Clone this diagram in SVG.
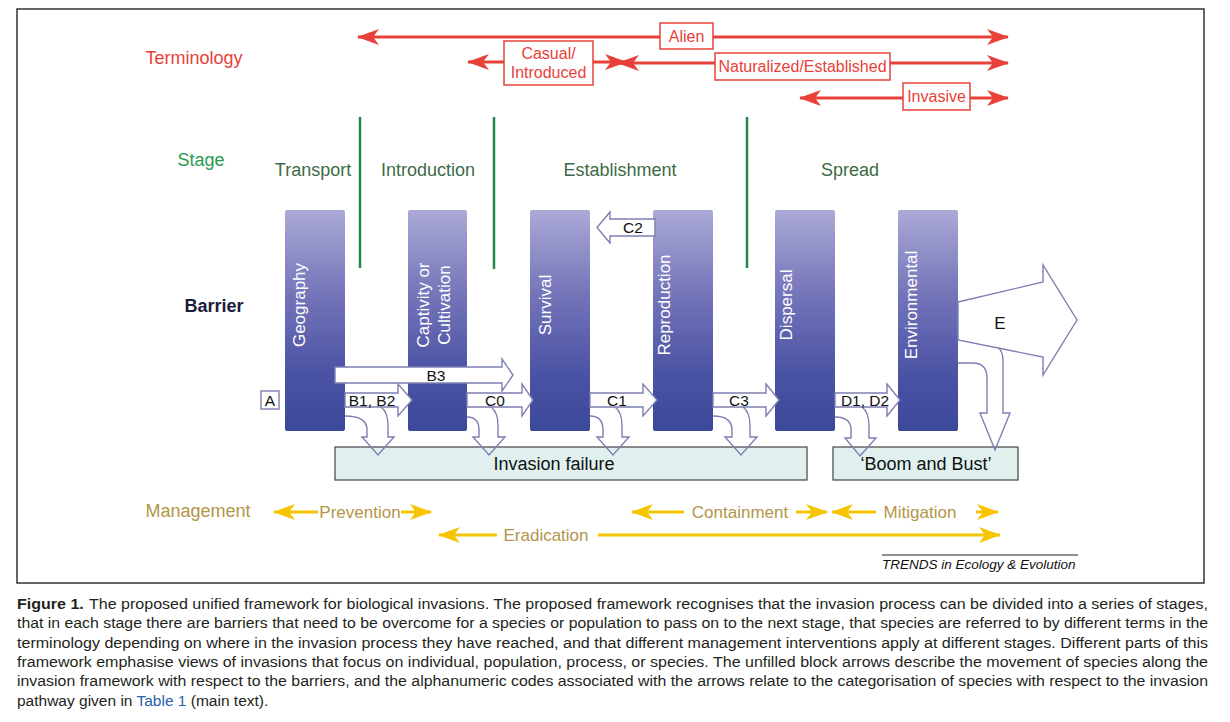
<svg xmlns="http://www.w3.org/2000/svg" width="1230" height="722" viewBox="0 0 1230 722">
<style>
text{font-family:"Liberation Sans",Arial,sans-serif}
.term{fill:#e8413a;font-size:16px;text-anchor:middle}
.tbox{fill:#fff;stroke:#e8413a;stroke-width:1.5}
.red{stroke:#e8413a;stroke-width:3;fill:none}
.yel{stroke:#f6c400;stroke-width:3;fill:none}
.green{stroke:#1f8a46;stroke-width:2.5}
.stg{fill:#3d6b45;font-size:18px;text-anchor:middle}
.bar{fill:url(#barg)}
.blab{fill:#fff;font-size:17px;text-anchor:middle}
.blk{fill:#fff;stroke:#7d7fb3;stroke-width:1.4}
.dn{fill:none;stroke:#7d7fb3;stroke-width:1.4}
.alab{fill:#111;font-size:15.5px;text-anchor:middle}
.fail{fill:#dff0ef;stroke:#444;stroke-width:1.2}
.mg{fill:#b3954a;font-size:17px;text-anchor:middle}
.cap{fill:#231f20;font-size:15.5px}
</style>
<defs>
<linearGradient id="barg" x1="0" y1="0" x2="0" y2="1">
<stop offset="0" stop-color="#aaa9d6"/>
<stop offset="0.4" stop-color="#7272b8"/>
<stop offset="0.75" stop-color="#4a52a4"/>
<stop offset="1" stop-color="#3c4898"/>
</linearGradient>
<marker id="rh" viewBox="-1 -9 24 18" refX="21" refY="0" markerWidth="24" markerHeight="18" markerUnits="userSpaceOnUse" orient="auto-start-reverse">
<path d="M0,-8 L22,0 L0,8 L6,0 z" fill="#e8413a"/>
</marker>
<marker id="yh" viewBox="-1 -9 24 18" refX="21" refY="0" markerWidth="24" markerHeight="18" markerUnits="userSpaceOnUse" orient="auto-start-reverse">
<path d="M0,-8 L22,0 L0,8 L6,0 z" fill="#f6c400"/>
</marker>
</defs>
<rect width="1230" height="722" fill="#fff"/>
<rect x="17" y="9" width="1187" height="574" fill="none" stroke="#333" stroke-width="1.5"/>

<g id="row-labels">
<text x="194" y="64" font-size="18" fill="#e8413a" text-anchor="middle">Terminology</text>
<text x="201" y="166" font-size="18" fill="#2a9a50" text-anchor="middle">Stage</text>
<text x="214" y="312" font-size="18" font-weight="bold" fill="#1a1c3c" text-anchor="middle">Barrier</text>
<text x="198" y="517" font-size="18" fill="#b3954a" text-anchor="middle">Management</text>
</g>

<g id="connectors">
<line class="red" x1="358" y1="37" x2="1008" y2="37" marker-start="url(#rh)" marker-end="url(#rh)"/>
<line class="red" x1="504" y1="62" x2="468" y2="62" marker-end="url(#rh)"/>
<line class="red" x1="593" y1="62" x2="626" y2="62" marker-end="url(#rh)"/>
<line class="red" x1="618" y1="63" x2="1008" y2="63" marker-start="url(#rh)" marker-end="url(#rh)"/>
<line class="red" x1="800" y1="98" x2="1008" y2="98" marker-start="url(#rh)" marker-end="url(#rh)"/>
<line class="green" x1="360" y1="117" x2="360" y2="268"/>
<line class="green" x1="494" y1="117" x2="494" y2="269"/>
<line class="green" x1="747" y1="117" x2="747" y2="268"/>
<line class="yel" x1="318" y1="512" x2="274" y2="512" marker-end="url(#yh)"/>
<line class="yel" x1="401" y1="512" x2="431" y2="512" marker-end="url(#yh)"/>
<line class="yel" x1="684" y1="512" x2="632" y2="512" marker-end="url(#yh)"/>
<line class="yel" x1="796" y1="512" x2="827" y2="512" marker-end="url(#yh)"/>
<line class="yel" x1="876" y1="512" x2="832" y2="512" marker-end="url(#yh)"/>
<line class="yel" x1="976" y1="512" x2="998" y2="512" marker-end="url(#yh)"/>
<line class="yel" x1="497" y1="535" x2="439" y2="535" marker-end="url(#yh)"/>
<line class="yel" x1="598" y1="535" x2="1000" y2="535" marker-end="url(#yh)"/>
</g>

<g id="term-alien"><rect class="tbox" x="660" y="23" width="53" height="26"/><text class="term" x="686.5" y="42">Alien</text></g>
<g id="term-casual"><rect class="tbox" x="504" y="41" width="89" height="44"/><text class="term" x="548.5" y="59">Casual/</text><text class="term" x="548.5" y="78">Introduced</text></g>
<g id="term-naturalized"><rect class="tbox" x="715" y="53" width="175" height="27"/><text class="term" x="802.5" y="72">Naturalized/Established</text></g>
<g id="term-invasive"><rect class="tbox" x="903" y="83" width="67" height="27"/><text class="term" x="936.5" y="102">Invasive</text></g>

<g id="stages">
<text class="stg" x="313" y="176">Transport</text>
<text class="stg" x="428" y="176">Introduction</text>
<text class="stg" x="620" y="176">Establishment</text>
<text class="stg" x="850" y="176">Spread</text>
</g>

<g id="fail-boxes">
<g id="invasion-failure"><rect class="fail" x="335" y="447" width="472" height="33"/><text x="554" y="470" font-size="18" fill="#111" text-anchor="middle">Invasion failure</text></g>
<g id="boom-bust"><rect class="fail" x="833" y="447" width="185" height="33"/><text x="926" y="470" font-size="18" fill="#111" text-anchor="middle">‘Boom and Bust’</text></g>
</g>

<g id="bar-geography"><rect class="bar" x="285" y="210" width="60" height="221" rx="2"/><text class="blab" transform="translate(305,305) rotate(-90)">Geography</text></g>
<g id="bar-captivity"><rect class="bar" x="408" y="210" width="59" height="221" rx="2"/><text class="blab" transform="translate(429,305) rotate(-90)">Captivity or</text><text class="blab" transform="translate(450,305) rotate(-90)">Cultivation</text></g>
<g id="bar-survival"><rect class="bar" x="530" y="210" width="60" height="221" rx="2"/><text class="blab" transform="translate(551,305) rotate(-90)">Survival</text></g>
<g id="bar-reproduction"><rect class="bar" x="653" y="210" width="60" height="221" rx="2"/><text class="blab" transform="translate(670,305) rotate(-90)">Reproduction</text></g>
<g id="bar-dispersal"><rect class="bar" x="775" y="210" width="60" height="221" rx="2"/><text class="blab" transform="translate(792,305) rotate(-90)">Dispersal</text></g>
<g id="bar-environmental"><rect class="bar" x="898" y="210" width="60" height="221" rx="2"/><text class="blab" transform="translate(917,305) rotate(-90)">Environmental</text></g>

<g id="down-arrows">
<path class="dn" d="M345,416 Q367,416 367,430 L367,437 L362,437 L378,455 L394,437 L388,437 L388,426 Q388,412 381,407"/>
<path class="dn" d="M467,417 Q479,417 479,430 L479,437 L473,437 L489,455 L505,437 L498,437 L498,426 Q498,412 491,407"/>
<path class="dn" d="M590,416 Q603,416 603,430 L603,437 L597,437 L613,455 L629,437 L622,437 L622,426 Q622,412 615,407"/>
<path class="dn" d="M713,416 Q732,416 732,430 L732,437 L725,437 L741,455 L757,437 L750,437 L750,426 Q750,412 743,407"/>
<path class="dn" d="M835,417 Q851,417 851,430 L851,438 L845,438 L860,456 L876,438 L869,438 L869,426 Q869,412 862,407"/>
<path class="dn" d="M958,363 L973,363 Q987,363 987,378 L987,413 L980,413 L995,450 L1010,413 L1003,413 L1003,360 Q1003,352 998,347"/>
</g>

<g id="block-arrows">
<g id="arrow-A"><rect class="blk" x="261" y="391" width="18" height="18"/><text class="alab" x="270" y="406">A</text></g>
<g id="arrow-B3"><polygon class="blk" points="335,367 502,367 502,359 513,375 502,391 502,383 335,383"/><text class="alab" x="436" y="381">B3</text></g>
<g id="arrow-B1B2"><polygon class="blk" points="345,393 398,393 398,384 412,400 398,416 398,407 345,407"/><text class="alab" x="372" y="406">B1, B2</text></g>
<g id="arrow-C0"><polygon class="blk" points="467,393 522,393 522,384 533,400 522,416 522,407 467,407"/><text class="alab" x="495" y="406">C0</text></g>
<g id="arrow-C1"><polygon class="blk" points="590,393 643,393 643,384 657,400 643,416 643,407 590,407"/><text class="alab" x="617" y="406">C1</text></g>
<g id="arrow-C3"><polygon class="blk" points="713,393 766,393 766,384 779,400 766,416 766,407 713,407"/><text class="alab" x="739" y="406">C3</text></g>
<g id="arrow-D1D2"><polygon class="blk" points="835,393 887,393 887,384 900,400 887,416 887,407 835,407"/><text class="alab" x="865" y="406">D1, D2</text></g>
<g id="arrow-C2"><polygon class="blk" points="655,219 610,219 610,212 597,227.5 610,243 610,236 655,236"/><text class="alab" x="633" y="233">C2</text></g>
<g id="arrow-E"><polygon class="blk" points="958,302 1043,282 1043,265 1077,320 1043,375 1043,357 958,340"/><text x="1000" y="329" font-size="17" fill="#111" text-anchor="middle">E</text></g>
</g>

<g id="management">
<text class="mg" x="360" y="518">Prevention</text>
<text class="mg" x="740" y="518">Containment</text>
<text class="mg" x="920" y="518">Mitigation</text>
<text class="mg" x="546" y="541">Eradication</text>
</g>

<g id="credit">
<line x1="882" y1="555" x2="1078" y2="555" stroke="#222" stroke-width="1"/>
<text x="882" y="569" font-size="13.5" font-style="italic" fill="#111">TRENDS in Ecology &amp; Evolution</text>
</g>

<g id="caption">
<text class="cap" x="17" y="609" textLength="1191" lengthAdjust="spacingAndGlyphs"><tspan font-weight="bold">Figure 1.</tspan><tspan dx="5">The proposed unified framework for biological invasions. The proposed framework recognises that the invasion process can be divided into a series of stages,</tspan></text>
<text class="cap" x="17" y="628" textLength="1191" lengthAdjust="spacingAndGlyphs">that in each stage there are barriers that need to be overcome for a species or population to pass on to the next stage, that species are referred to by different terms in the</text>
<text class="cap" x="17" y="648" textLength="1191" lengthAdjust="spacingAndGlyphs">terminology depending on where in the invasion process they have reached, and that different management interventions apply at different stages. Different parts of this</text>
<text class="cap" x="17" y="667" textLength="1191" lengthAdjust="spacingAndGlyphs">framework emphasise views of invasions that focus on individual, population, process, or species. The unfilled block arrows describe the movement of species along the</text>
<text class="cap" x="17" y="686" textLength="1191" lengthAdjust="spacingAndGlyphs">invasion framework with respect to the barriers, and the alphanumeric codes associated with the arrows relate to the categorisation of species with respect to the invasion</text>
<text class="cap" x="17" y="706">pathway given in <tspan fill="#2a62a8">Table 1</tspan> (main text).</text>
</g>
</svg>
